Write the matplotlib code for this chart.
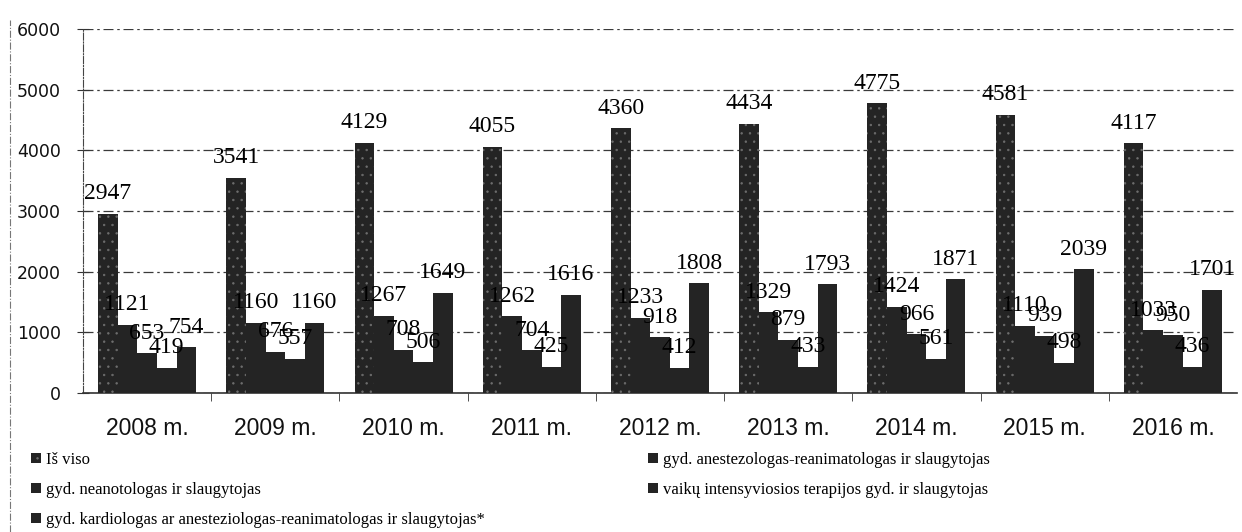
import matplotlib
matplotlib.use("Agg")
import matplotlib.pyplot as plt
import numpy as np
from matplotlib.patches import Patch
from matplotlib.lines import Line2D

years = ["2008 m.", "2009 m.", "2010 m.", "2011 m.", "2012 m.", "2013 m.", "2014 m.", "2015 m.", "2016 m."]
is_viso = [2947, 3541, 4129, 4055, 4360, 4434, 4775, 4581, 4117]
anest = [1121, 1160, 1267, 1262, 1233, 1329, 1424, 1110, 1033]
neo = [653, 676, 708, 704, 918, 879, 966, 939, 950]
vaiku = [419, 557, 506, 425, 412, 433, 561, 498, 436]
kardio = [754, 1160, 1649, 1616, 1808, 1793, 1871, 2039, 1701]

labels = ["Iš viso",
          "gyd. anestezologas-reanimatologas ir slaugytojas",
          "gyd. neanotologas ir slaugytojas",
          "vaikų intensyviosios terapijos gyd. ir slaugytojas",
          "gyd. kardiologas ar anesteziologas-reanimatologas ir slaugytojas*"]
series = [is_viso, anest, neo, vaiku, kardio]

plt.rcParams['hatch.linewidth'] = 0.5
fig = plt.figure(figsize=(12.42, 5.32), dpi=100)
ax = fig.add_axes([83/1242, 1-393/532, (1237-83)/1242, (393-29)/532])

x = np.arange(len(years))
w = 0.153
bar_col = "#242424"
handles = []
for i, (vals, lab) in enumerate(zip(series, labels)):
    if i == 0:
        bars = ax.bar(x + (i-2)*w, vals, w, color=bar_col, edgecolor="#6e6e6e",
                      linewidth=0, hatch="..", zorder=3)
        handles.append(Patch(facecolor=bar_col, edgecolor="#6e6e6e", hatch="..", linewidth=0))
    else:
        bars = ax.bar(x + (i-2)*w, vals, w, color=bar_col, linewidth=0, zorder=3)
        handles.append(Patch(facecolor=bar_col, linewidth=0))
    ax.bar_label(bars, labels=[str(v) for v in vals], padding=7,
                 fontsize=17, family="Liberation Serif", color="#000000", zorder=4)

ax.set_xlim(-0.5, len(years)-0.5)
ax.set_ylim(0, 6000)
ax.set_yticks(np.arange(0, 6001, 1000))
ax.set_yticklabels([str(v) for v in range(0, 6001, 1000)], fontsize=12.5,
                   family="DejaVu Sans", color="#111111")
ax.set_xticks(x)
ax.set_xticklabels(years, fontsize=16.5, family="Liberation Sans", color="#111111")
ax.set_xticks(np.arange(0.5, len(years)-0.5, 1), minor=True)
ax.tick_params(axis='x', which='major', length=0, pad=17)
ax.tick_params(axis='x', which='minor', length=6, direction='out', color="#333333")
ax.tick_params(axis='y', which='major', length=8, direction='inout', color="#333333", pad=12)

ax.grid(axis='y', linestyle=(0, (8, 3, 2, 3)), color="#3a3a3a", linewidth=0.9, zorder=0)
for s in ['top', 'right']:
    ax.spines[s].set_visible(False)
ax.spines['left'].set_linestyle('-.')
ax.spines['left'].set_color("#444444")
ax.spines['bottom'].set_color("#333333")
ax.spines['bottom'].set_linewidth(1.2)

# left frame dash line
fig.add_artist(Line2D([10/1242, 10/1242], [0, 1-20/532], transform=fig.transFigure,
                      linestyle='-.', color="#777777", linewidth=0.8))

order = [0, 2, 4, 1, 3]
leg = fig.legend([handles[k] for k in order], [labels[k] for k in order],
                 loc='upper left', bbox_to_anchor=(24/1242, 1-445/532), ncol=2,
                 frameon=False, prop={'family': 'Liberation Serif', 'size': 12},
                 handlelength=0.6, handleheight=0.6, handletextpad=0.3,
                 labelspacing=0.85, columnspacing=9.8, borderaxespad=0)

fig.savefig("out.png", dpi=100)
